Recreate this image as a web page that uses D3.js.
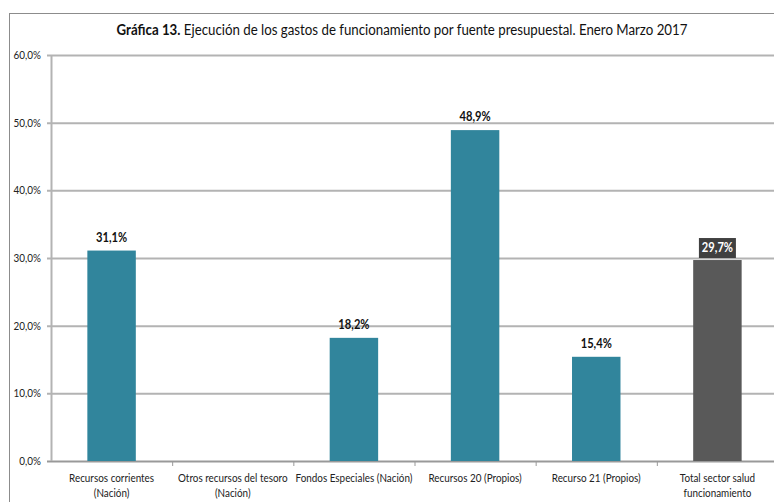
<!DOCTYPE html>
<html><head><meta charset="utf-8">
<script src="https://cdn.jsdelivr.net/npm/d3@7"></script>
<style>body{margin:0;background:#fff;}svg{display:block;}</style>
</head><body>
<script>
const categories = [["Recursos corrientes","(Nación)"],["Otros recursos del tesoro","(Nación)"],["Fondos Especiales (Nación)"],["Recursos 20 (Propios)"],["Recurso 21 (Propios)"],["Total sector salud","funcionamiento"]];
const values = [31.1, 0, 18.2, 48.9, 15.4, 29.7];
const highlight = [false,false,false,false,false,true];
const yTicks = [0,10,20,30,40,50,60];

const W=774,H=502;
const font = "Lato,'Open Sans',sans-serif";
const SX=0.86;
const svg = d3.select("body").append("svg").attr("width",W).attr("height",H).style("font-family",font);
svg.append("rect").attr("x",9.5).attr("y",13.5).attr("width",W+10).attr("height",H+10).attr("fill","none").attr("stroke","#8c8c8c");

function txt(g,x0,y0,anchor,size,sx){
  return g.append("text").attr("transform",`translate(${x0},${y0}) scale(${sx||SX},1)`).attr("text-anchor",anchor).attr("font-size",size);
}

const m={l:51,t:55,r:778,b:461};
const x=d3.scaleBand().domain(d3.range(categories.length)).range([m.l,m.r]).paddingInner(0.6).paddingOuter(0.3);
const y=d3.scaleLinear().domain([0,60]).range([m.b,m.t]);
const fmt=v=>d3.format(".1f")(v).replace(".",",")+"%";

svg.append("g").selectAll("line").data(yTicks).join("line")
 .attr("x1",m.l-4).attr("x2",m.r).attr("y1",d=>y(d)+0.5).attr("y2",d=>y(d)+0.5)
 .attr("stroke",d=>d===0?"#999":"#b3b3b3").attr("stroke-width",2);
svg.append("line").attr("x1",m.l+0.5).attr("x2",m.l+0.5).attr("y1",m.t).attr("y2",m.b).attr("stroke","#b3b3b3").attr("stroke-width",2);
yTicks.forEach(d=>txt(svg,m.l-10,y(d)+4,"end",11.5).attr("fill","#222").text(fmt(d)));

const bw=(m.r-m.l)/categories.length;
svg.append("g").selectAll("line").data(d3.range(1,categories.length)).join("line")
 .attr("x1",d=>m.l+d*bw+0.5).attr("x2",d=>m.l+d*bw+0.5)
 .attr("y1",m.b).attr("y2",m.b+5).attr("stroke","#999");

svg.append("g").selectAll("rect").data(values).join("rect")
 .attr("x",(d,i)=>x(i)).attr("width",x.bandwidth()).attr("y",d=>y(d)).attr("height",d=>m.b-y(d))
 .attr("fill",(d,i)=>highlight[i]?"#595959":"#31859c");

values.forEach((v,i)=>{
 if(v===0) return;
 const cx=x(i)+x.bandwidth()/2, ty=y(v)-9;
 if(highlight[i]){
  svg.append("rect").attr("x",cx-18.5).attr("y",ty-13).attr("width",37).attr("height",20).attr("fill","#404040");
  txt(svg,cx,ty+1,"middle",13).attr("font-weight","bold").attr("fill","#fff").text(fmt(v));
 } else {
  txt(svg,cx,ty,"middle",13).attr("font-weight","bold").attr("fill","#111").text(fmt(v));
 }
});

categories.forEach((c,i)=>{
 c.forEach((line,j)=>txt(svg,x(i)+x.bandwidth()/2,482+j*15,"middle",11.5).attr("fill","#222").text(line));
});

const tt=txt(svg,402,35,"middle",16,0.83).attr("fill","#111");
tt.append("tspan").attr("font-weight","bold").text("Gráfica 13.");
tt.append("tspan").text(" Ejecución de los gastos de funcionamiento por fuente presupuestal. Enero Marzo 2017");
</script>
</body></html>
